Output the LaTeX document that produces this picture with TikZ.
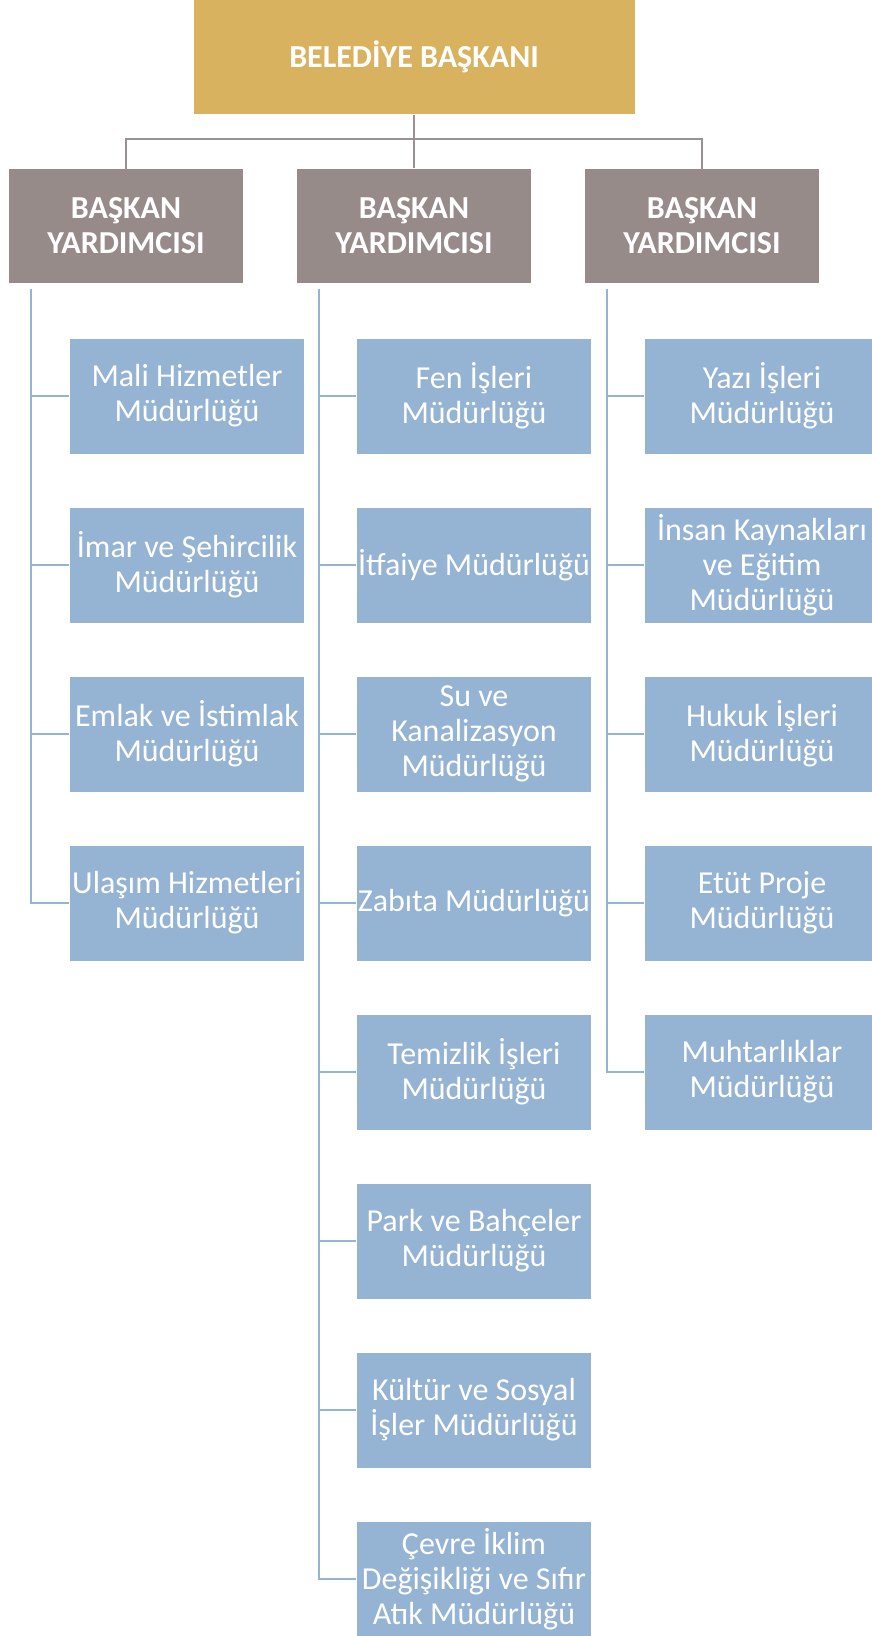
\documentclass[tikz,border=0pt]{standalone}
\usepackage{fontspec}
\setmainfont{Carlito}
\usepackage{xcolor}
\definecolor{altin}{HTML}{D8B25E}
\definecolor{kahve}{HTML}{968B89}
\definecolor{mavi}{HTML}{95B3D2}
\definecolor{cizgi}{HTML}{9A9192}
\tikzset{
	kutu/.style={
			rectangle, draw=white, line width=0.8pt, text=white, align=center,
			inner sep=0pt, minimum width=235pt, minimum height=116pt,
			font=\fontsize{32}{35}\selectfont
		},
	baskankutu/.style={kutu, fill=altin, minimum width=442pt, minimum height=115pt, font=\fontsize{32}{35}\selectfont\bfseries},
	yardkutu/.style={kutu, fill=kahve, minimum height=115pt, font=\fontsize{32}{35}\selectfont\bfseries},
	mudkutu/.style={kutu, fill=mavi},
	ustcizgi/.style={draw=cizgi, line width=2.5pt},
	altcizgi/.style={draw=mavi, line width=2.5pt}
}

\begin{document}
\begin{tikzpicture}[x=1pt, y=-1pt]
			\clip	(0, 0) rectangle (872, 1636);
			\fill[white]	(0, 0) rectangle (872, 1636);

			\node[baskankutu] (baskan)	at (414, 57)	{BELEDİYE BAŞKANI};

			\node[yardkutu] (yard1)	at (126, 226)	{BAŞKAN\\YARDIMCISI};
			\node[yardkutu] (yard2)	at (414, 226)	{BAŞKAN\\YARDIMCISI};
			\node[yardkutu] (yard3)	at (702, 226)	{BAŞKAN\\YARDIMCISI};

			\coordinate (bus)	at (414, 139);
			\draw[ustcizgi]	(baskan.south) to (yard2.north);
			\draw[ustcizgi]	([yshift=-2pt]yard1.north) |- (bus) -| ([yshift=-2pt]yard3.north);

			% sol sutun
			\node[mudkutu] (mud11)	at (187, 396)	{Mali Hizmetler\\Müdürlüğü};
			\node[mudkutu] (mud12)	at (187, 565)	{İmar ve Şehircilik\\Müdürlüğü};
			\node[mudkutu] (mud13)	at (187, 734)	{Emlak ve İstimlak\\Müdürlüğü};
			\node[mudkutu] (mud14)	at (187, 903)	{Ulaşım Hizmetleri\\Müdürlüğü};

			% orta sutun
			\node[mudkutu] (mud21)	at (474, 396)	{Fen İşleri\\Müdürlüğü};
			\node[mudkutu] (mud22)	at (474, 565)	{İtfaiye Müdürlüğü};
			\node[mudkutu] (mud23)	at (474, 734)	{Su ve\\Kanalizasyon\\Müdürlüğü};
			\node[mudkutu] (mud24)	at (474, 903)	{Zabıta Müdürlüğü};
			\node[mudkutu] (mud25)	at (474, 1072)	{Temizlik İşleri\\Müdürlüğü};
			\node[mudkutu] (mud26)	at (474, 1241)	{Park ve Bahçeler\\Müdürlüğü};
			\node[mudkutu] (mud27)	at (474, 1410)	{Kültür ve Sosyal\\İşler Müdürlüğü};
			\node[mudkutu] (mud28)	at (474, 1579)	{Çevre İklim\\Değişikliği ve Sıfır\\Atık Müdürlüğü};

			% sag sutun
			\node[mudkutu] (mud31)	at (762, 396)	{Yazı İşleri\\Müdürlüğü};
			\node[mudkutu] (mud32)	at (762, 565)	{İnsan Kaynakları\\ve Eğitim\\Müdürlüğü};
			\node[mudkutu] (mud33)	at (762, 734)	{Hukuk İşleri\\Müdürlüğü};
			\node[mudkutu] (mud34)	at (762, 903)	{Etüt Proje\\Müdürlüğü};
			\node[mudkutu] (mud35)	at (762, 1072)	{Muhtarlıklar\\Müdürlüğü};

			\coordinate (kol1)	at (31, 289);
			\coordinate (kol2)	at (319, 289);
			\coordinate (kol3)	at (607, 289);

			\draw[altcizgi]	(kol1) |- (mud11.west)	(kol1) |- (mud12.west)
							(kol1) |- (mud13.west)	(kol1) |- (mud14.west);
			\draw[altcizgi]	(kol2) |- (mud21.west)	(kol2) |- (mud22.west)
							(kol2) |- (mud23.west)	(kol2) |- (mud24.west)
							(kol2) |- (mud25.west)	(kol2) |- (mud26.west)
							(kol2) |- (mud27.west)	(kol2) |- (mud28.west);
			\draw[altcizgi]	(kol3) |- (mud31.west)	(kol3) |- (mud32.west)
							(kol3) |- (mud33.west)	(kol3) |- (mud34.west)
							(kol3) |- (mud35.west);
		\end{tikzpicture}
\end{document}
